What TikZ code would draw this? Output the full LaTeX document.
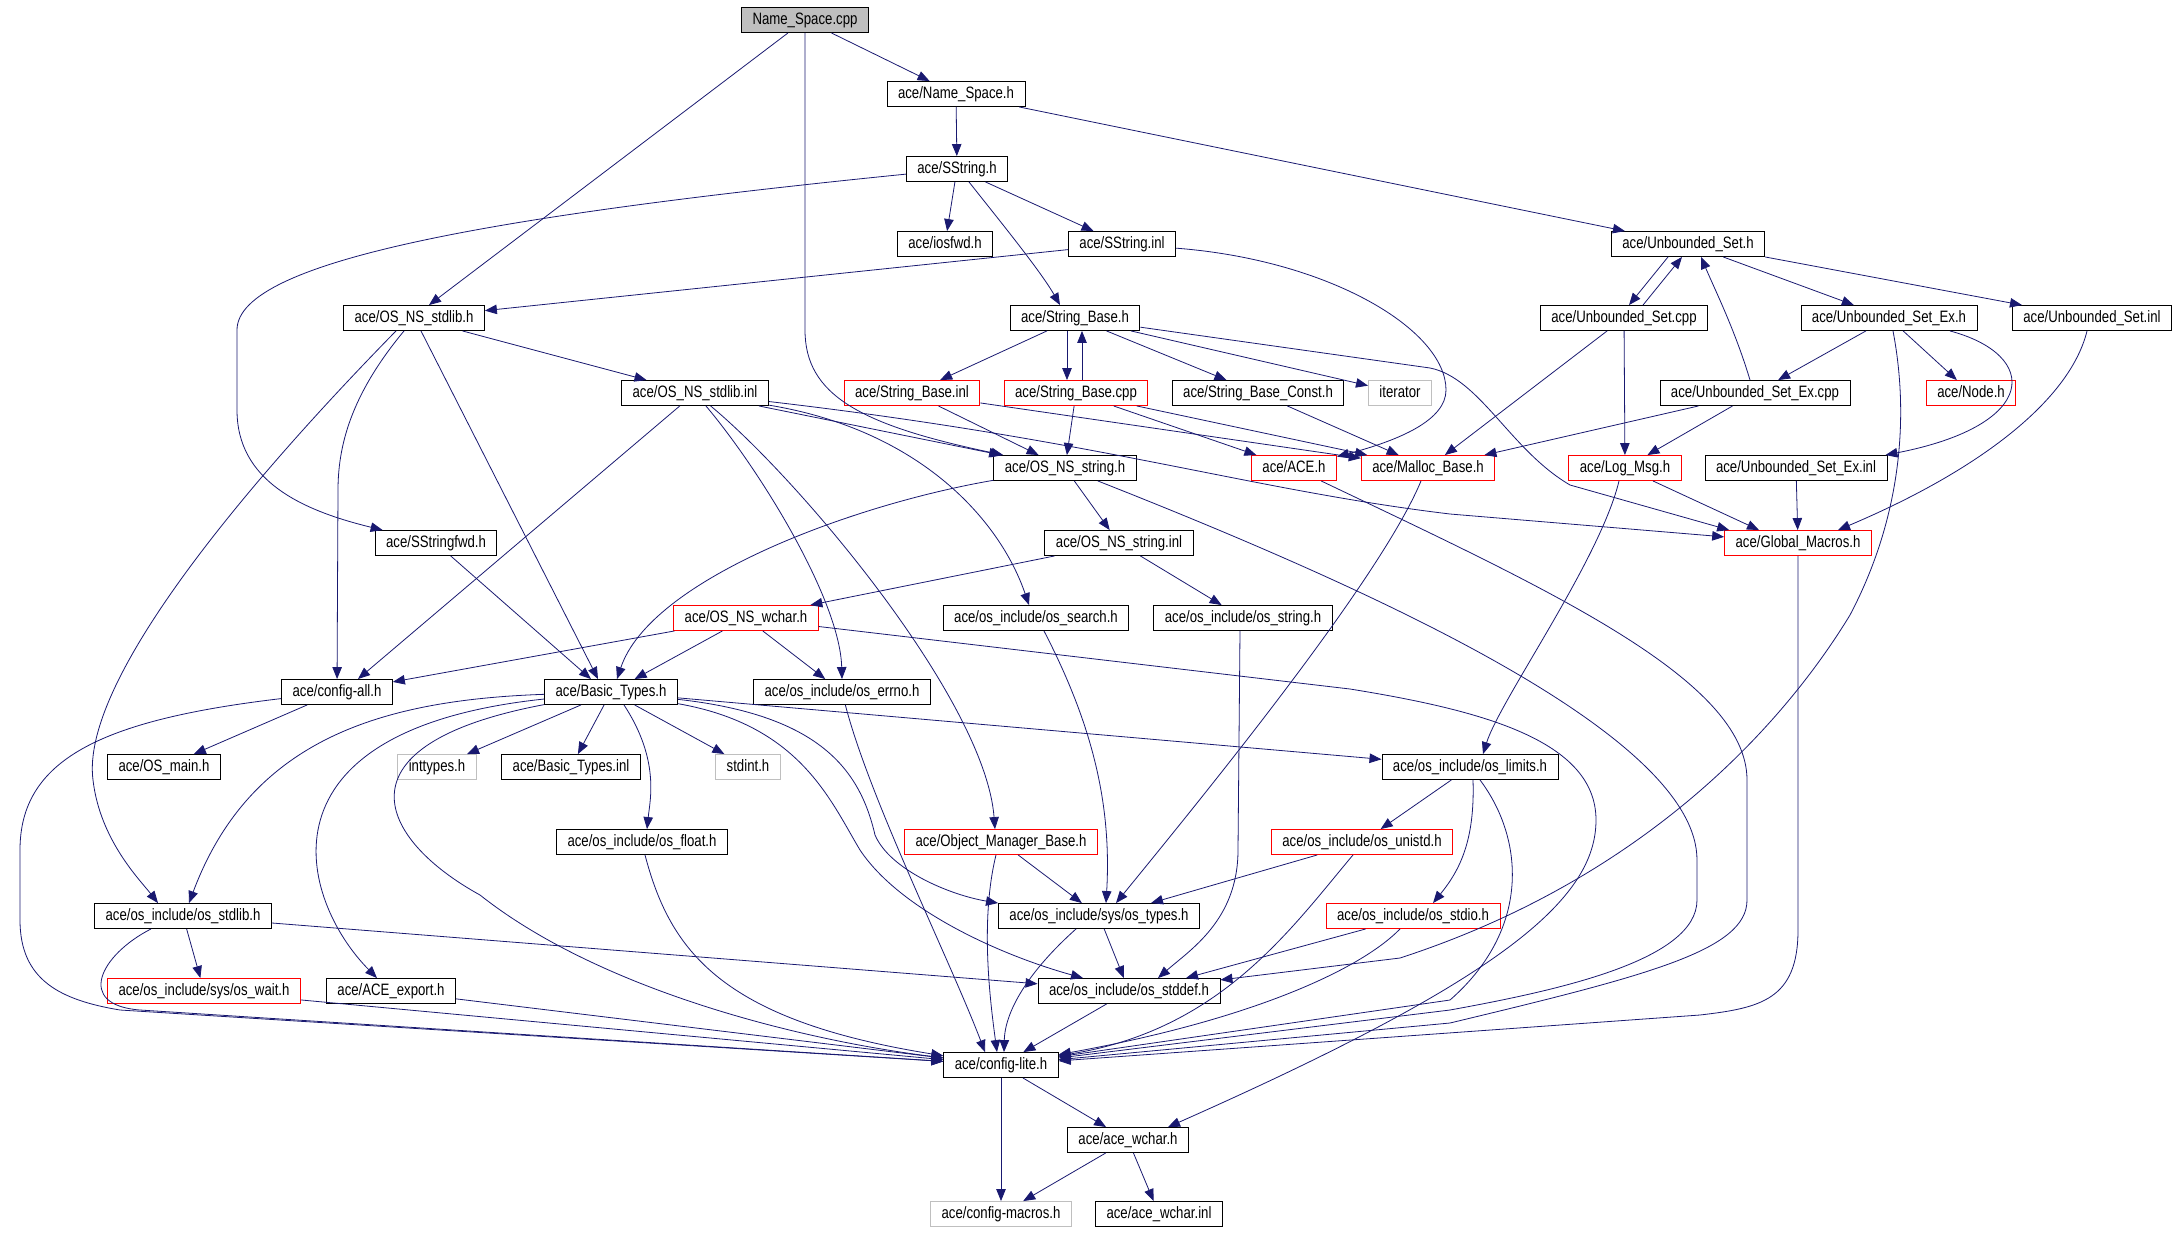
\documentclass[tikz,border=0pt]{standalone}
\usepackage{fontspec}
\setmainfont{Liberation Sans}[FakeStretch=0.8]
\usetikzlibrary{arrows.meta}
\definecolor{edgeblue}{RGB}{25,25,112}
\definecolor{extgray}{RGB}{191,191,191}
\begin{document}
\begin{tikzpicture}[x=1pt, y=-1pt,
		file/.style={draw=black, line width=0.9pt, minimum height=25pt, inner xsep=11pt, inner ysep=0pt,
			text height=12pt, text depth=3.5pt, font=\fontsize{16.5}{18}\selectfont},
		trunc/.style={file, draw=red},
		ext/.style={file, draw=extgray},
		root/.style={file, fill=extgray},
		edge/.style={draw=edgeblue, line width=0.8pt, -{Triangle[length=12pt,width=9.5pt]}}
		]
	\useasboundingbox (0,0) rectangle (2177,1232);
	\node [root] (nscpp) at (805,20) {Name\_Space.cpp};
	\node [file] (nsh) at (956,94) {ace/Name\_Space.h};
	\node [file] (sstr) at (957,169) {ace/SString.h};
	\node [file] (iosfwd) at (945,244) {ace/iosfwd.h};
	\node [file] (sstrinl) at (1122,244) {ace/SString.inl};
	\node [file] (usset) at (1688,244) {ace/Unbounded\_Set.h};
	\node [file] (osstdlib) at (414,318) {ace/OS\_NS\_stdlib.h};
	\node [file] (strbase) at (1075,318) {ace/String\_Base.h};
	\node [file] (ussetcpp) at (1624,318) {ace/Unbounded\_Set.cpp};
	\node [file] (ussetexh) at (1889,318) {ace/Unbounded\_Set\_Ex.h};
	\node [file] (ussetinl) at (2092,318) {ace/Unbounded\_Set.inl};
	\node [file] (osstdlibinl) at (695,393) {ace/OS\_NS\_stdlib.inl};
	\node [trunc] (strbaseinl) at (912,393) {ace/String\_Base.inl};
	\node [trunc] (strbasecpp) at (1076,393) {ace/String\_Base.cpp};
	\node [file] (strbaseconst) at (1258,393) {ace/String\_Base\_Const.h};
	\node [ext] (iterator) at (1400,393) {iterator};
	\node [file] (ussetexcpp) at (1755,393) {ace/Unbounded\_Set\_Ex.cpp};
	\node [trunc] (nodeh) at (1971,393) {ace/Node.h};
	\node [file] (osstring) at (1065,468) {ace/OS\_NS\_string.h};
	\node [trunc] (aceh) at (1294,468) {ace/ACE.h};
	\node [trunc] (mallocbase) at (1428,468) {ace/Malloc\_Base.h};
	\node [trunc] (logmsg) at (1625,468) {ace/Log\_Msg.h};
	\node [file] (ussetexinl) at (1796,468) {ace/Unbounded\_Set\_Ex.inl};
	\node [file] (sstrfwd) at (436,543) {ace/SStringfwd.h};
	\node [file] (osstringinl) at (1119,543) {ace/OS\_NS\_string.inl};
	\node [trunc] (globalmacros) at (1798,543) {ace/Global\_Macros.h};
	\node [trunc] (oswchar) at (746,618) {ace/OS\_NS\_wchar.h};
	\node [file] (ossearch) at (1036,618) {ace/os\_include/os\_search.h};
	\node [file] (osincstring) at (1243,618) {ace/os\_include/os\_string.h};
	\node [file] (configall) at (337,692) {ace/config-all.h};
	\node [file] (basictypes) at (611,692) {ace/Basic\_Types.h};
	\node [file] (oserrno) at (842,692) {ace/os\_include/os\_errno.h};
	\node [file] (osmain) at (164,767) {ace/OS\_main.h};
	\node [ext] (inttypes) at (437,767) {inttypes.h};
	\node [file] (basictypesinl) at (571,767) {ace/Basic\_Types.inl};
	\node [ext] (stdint) at (748,767) {stdint.h};
	\node [file] (oslimits) at (1470,767) {ace/os\_include/os\_limits.h};
	\node [file] (osfloat) at (642,842) {ace/os\_include/os\_float.h};
	\node [trunc] (objmgr) at (1001,842) {ace/Object\_Manager\_Base.h};
	\node [trunc] (osunistd) at (1362,842) {ace/os\_include/os\_unistd.h};
	\node [file] (osincstdlib) at (183,916) {ace/os\_include/os\_stdlib.h};
	\node [file] (systypes) at (1099,916) {ace/os\_include/sys/os\_types.h};
	\node [trunc] (osstdio) at (1413,916) {ace/os\_include/os\_stdio.h};
	\node [trunc] (oswait) at (204,991) {ace/os\_include/sys/os\_wait.h};
	\node [file] (aceexport) at (391,991) {ace/ACE\_export.h};
	\node [file] (osstddef) at (1129,991) {ace/os\_include/os\_stddef.h};
	\node [file] (configlite) at (1001,1065) {ace/config-lite.h};
	\node [file] (acewchar) at (1128,1140) {ace/ace\_wchar.h};
	\node [ext] (configmacros) at (1001,1214) {ace/config-macros.h};
	\node [file] (acewcharinl) at (1159,1214) {ace/ace\_wchar.inl};

	\draw[edge] (nscpp) -- (nsh);
	\draw[edge] (nscpp) -- ([xshift=15pt]osstdlib.north);
	\draw[edge] (nscpp.south) -- (805,330) .. controls (805,395) and (860,425) .. (osstring);
	\draw[edge] (nsh) -- (sstr);
	\draw[edge] (nsh) -- (usset);
	\draw[edge] (sstr) .. controls (500,215) and (237,260) .. (237,330) -- (237,410) .. controls (237,480) and (300,510) .. (sstrfwd);
	\draw[edge] (sstr) -- (iosfwd);
	\draw[edge] (sstr) -- (sstrinl);
	\draw[edge] ([xshift=12pt]sstr.south) .. controls (995,215) and (1040,270) .. ([xshift=-15pt]strbase.north);
	\draw[edge] (sstrinl) -- (osstdlib);
	\draw[edge] (sstrinl) .. controls (1330,260) and (1446,330) .. (1446,390) .. controls (1446,420) and (1400,440) .. (aceh);
	\draw[edge] (strbase) -- (strbaseinl);
	\draw[edge] ([xshift=-8pt]strbase.south) -- ([xshift=-9pt]strbasecpp.north);
	\draw[edge] ([xshift=6pt]strbasecpp.north) -- ([xshift=7pt]strbase.south);
	\draw[edge] (strbase) -- (strbaseconst);
	\draw[edge] (strbase) -- (iterator);
	\draw[edge] (strbase) -- (1430,368) .. controls (1480,378) and (1510,450) .. (1570,485) -- ([xshift=5pt]globalmacros.north west);
	\draw[edge] (strbasecpp) -- (osstring);
	\draw[edge] (strbasecpp) -- (aceh);
	\draw[edge] (strbasecpp) -- (mallocbase);
	\draw[edge] (strbaseinl) -- (osstring);
	\draw[edge] (strbaseinl) -- (mallocbase);
	\draw[edge] (strbaseconst) -- (mallocbase);
	\draw[edge] (osstdlib) -- (osstdlibinl);
	\draw[edge] ([xshift=-10pt]osstdlib.south) .. controls (355,390) and (338,440) .. (338,490) -- (configall);
	\draw[edge] ([xshift=7pt]osstdlib.south) -- ([xshift=-13pt]basictypes.north);
	\draw[edge] ([xshift=-18pt]osstdlib.south) .. controls (250,480) and (80,680) .. (93,780) .. controls (100,840) and (140,880) .. ([xshift=-25pt]osincstdlib.north);
	\draw[edge] (osstdlibinl) -- (osstring);
	\draw[edge] (osstdlibinl) -- ([xshift=21pt]configall.north);
	\draw[edge] (osstdlibinl) .. controls (760,470) and (840,600) .. (oserrno.north);
	\draw[edge] (osstdlibinl) .. controls (800,480) and (985,700) .. ([xshift=-6pt]objmgr.north);
	\draw[edge] (osstdlibinl) .. controls (920,430) and (1000,520) .. ([xshift=-7pt]ossearch.north);
	\draw[edge] (osstdlibinl) .. controls (1100,440) and (1250,490) .. (1450,514) -- (globalmacros);
	\draw[edge] (osstring) -- (osstringinl);
	\draw[edge] (osstring) .. controls (850,505) and (650,580) .. ([xshift=6pt]basictypes.north);
	\draw[edge] (osstring) .. controls (1400,600) and (1697,740) .. (1697,860) -- (1697,900) .. controls (1697,960) and (1560,990) .. (1450,1010) -- (configlite);
	\draw[edge] (aceh) .. controls (1550,590) and (1747,680) .. (1747,780) -- (1747,900) .. controls (1747,950) and (1650,975) .. (1450,1023) -- (configlite);
	\draw[edge] (globalmacros) -- (1798,930) .. controls (1798,1000) and (1760,1008) .. (1700,1015) -- (configlite);
	\draw[edge] (oswchar) -- (1350,689) .. controls (1480,710) and (1596,740) .. (1596,820) .. controls (1596,900) and (1500,980) .. ([xshift=40pt]acewchar.north);
	\draw[edge] (oswchar) -- (configall);
	\draw[edge] (oswchar) -- (basictypes);
	\draw[edge] (oswchar) -- (oserrno);
	\draw[edge] (osstringinl) -- (oswchar);
	\draw[edge] (osstringinl) -- (osincstring);
	\draw[edge] (sstrfwd) -- ([xshift=-20pt]basictypes.north);
	\draw[edge] ([xshift=8pt]ossearch.south) .. controls (1090,720) and (1112,800) .. ([xshift=7pt]systypes.north);
	\draw[edge] ([xshift=-3pt]osincstring.south) -- (1238,850) .. controls (1238,920) and (1190,950) .. ([xshift=29pt]osstddef.north);
	\draw[edge] (configall) -- (osmain);
	\draw[edge] (configall) .. controls (100,720) and (20,760) .. (20,850) -- (20,920) .. controls (20,980) and (60,1000) .. (120,1010) -- (configlite);
	\draw[edge] ([xshift=-32pt]osincstdlib.south) .. controls (100,955) and (75,1005) .. (140,1010) -- (configlite);
	\draw[edge] (osincstdlib) -- (oswait);
	\draw[edge] (osincstdlib) -- (osstddef);
	\draw[edge] (oswait) -- (configlite);
	\draw[edge] (aceexport) -- (configlite);
	\draw[edge] (basictypes) -- (inttypes);
	\draw[edge] (basictypes) -- (basictypesinl);
	\draw[edge] (basictypes) -- (stdint);
	\draw[edge] ([xshift=13pt]basictypes.south) .. controls (660,760) and (650,800) .. ([xshift=5pt]osfloat.north);
	\draw[edge] (basictypes) .. controls (380,700) and (250,740) .. ([xshift=6pt]osincstdlib.north);
	\draw[edge] (basictypes) .. controls (250,730) and (300,900) .. ([xshift=-14pt]aceexport.north);
	\draw[edge] (basictypes) .. controls (330,745) and (380,840) .. (480,895) .. controls (600,990) and (800,1040) .. (configlite);
	\draw[edge] (basictypes) -- (oslimits);
	\draw[edge] (basictypes) .. controls (820,715) and (860,770) .. (875,835) .. controls (890,870) and (950,895) .. (systypes.north west);
	\draw[edge] (basictypes) .. controls (800,725) and (830,800) .. (860,850) .. controls (900,910) and (1000,955) .. ([xshift=-46pt]osstddef.north);
	\draw[edge] ([xshift=3pt]osfloat.south) .. controls (670,950) and (720,1020) .. (configlite);
	\draw[edge] (oserrno) .. controls (870,800) and (950,960) .. ([xshift=-16pt]configlite.north);
	\draw[edge] ([xshift=-5pt]objmgr.south) .. controls (980,920) and (990,1000) .. ([xshift=-4pt]configlite.north);
	\draw[edge] (objmgr) -- (systypes);
	\draw[edge] ([xshift=-7pt]mallocbase.south) .. controls (1380,580) and (1200,800) .. ([xshift=17pt]systypes.north);
	\draw[edge] (osunistd) -- ([xshift=52pt]systypes.north);
	\draw[edge] ([xshift=-9pt]osunistd.south) .. controls (1290,930) and (1220,1030) .. (configlite);
	\draw[edge] (osstdio) -- ([xshift=57pt]osstddef.north);
	\draw[edge] ([xshift=-13pt]osstdio.south) .. controls (1360,970) and (1250,1020) .. (configlite);
	\draw[edge] (systypes) -- (osstddef);
	\draw[edge] ([xshift=-23pt]systypes.south) .. controls (1030,970) and (1005,1010) .. ([xshift=3pt]configlite.north);
	\draw[edge] (osstddef) -- (configlite);
	\draw[edge] (oslimits) -- (osunistd);
	\draw[edge] ([xshift=3pt]oslimits.south) .. controls (1475,840) and (1460,870) .. ([xshift=20pt]osstdio.north);
	\draw[edge] ([xshift=10pt]oslimits.south) .. controls (1525,840) and (1530,930) .. (1450,1000) -- (configlite);
	\draw[edge] (configlite) -- (configmacros);
	\draw[edge] (configlite) -- (acewchar);
	\draw[edge] (acewchar) -- (configmacros);
	\draw[edge] (acewchar) -- (acewcharinl);
	\draw[edge] ([xshift=-20pt]usset.south) -- ([xshift=5pt]ussetcpp.north);
	\draw[edge] ([xshift=19pt]ussetcpp.north) -- ([xshift=-6pt]usset.south);
	\draw[edge] (usset) -- (ussetexh);
	\draw[edge] (usset.south east) -- ([xshift=-70pt]ussetinl.north);
	\draw[edge] (ussetcpp) -- (mallocbase);
	\draw[edge] (ussetcpp) -- (logmsg);
	\draw[edge] (ussetexh) -- (ussetexcpp);
	\draw[edge] (ussetexh) -- (nodeh);
	\draw[edge] ([xshift=61pt]ussetexh.south) .. controls (2040,355) and (2040,425) .. ([xshift=-2pt]ussetexinl.north east);
	\draw[edge] ([xshift=4pt]ussetexh.south) .. controls (1910,420) and (1900,520) .. (1850,615) .. controls (1780,730) and (1640,880) .. (1400,958) -- (osstddef);
	\draw[edge] ([xshift=-5pt]ussetexcpp.north) .. controls (1735,330) and (1715,290) .. ([xshift=13pt]usset.south);
	\draw[edge] (ussetexcpp) -- (mallocbase);
	\draw[edge] (ussetexcpp) -- (logmsg);
	\draw[edge] ([xshift=-5pt]ussetinl.south) .. controls (2070,400) and (1980,470) .. ([xshift=40pt]globalmacros.north);
	\draw[edge] (ussetexinl) -- (globalmacros);
	\draw[edge] (logmsg) -- ([xshift=-39pt]globalmacros.north);
	\draw[edge] ([xshift=-6pt]logmsg.south) .. controls (1600,560) and (1500,700) .. ([xshift=13pt]oslimits.north);
\end{tikzpicture}
\end{document}
